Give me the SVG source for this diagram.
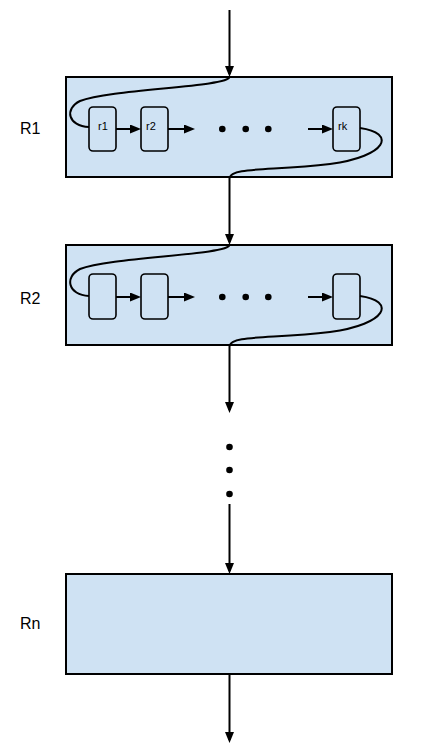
<svg xmlns="http://www.w3.org/2000/svg" width="441" height="753" viewBox="0 0 441 753">
  <defs>
    <marker id="ah" markerUnits="userSpaceOnUse" markerWidth="12" markerHeight="10" refX="8" refY="4.5" orient="auto">
      <path d="M0,0 L11,4.5 L0,9 z" fill="#000"/>
    </marker>
  </defs>
  <style>
    .box { fill: #cfe2f3; stroke: #000; stroke-width: 2; }
    .node { fill: #cfe2f3; stroke: #000; stroke-width: 1.6; }
    .lbl { font-family: "Liberation Sans", Arial, sans-serif; font-size: 16px; fill: #000; }
    .sm { font-family: "Liberation Sans", Arial, sans-serif; font-size: 11px; fill: #000; }
    .conn { fill: none; stroke: #000; stroke-width: 2; }
    .arr { fill: none; stroke: #000; stroke-width: 2; marker-end: url(#ah); }
    .dot { fill: #000; }
  </style>

  <g id="R1">
    <rect class="box" x="66" y="77" width="326" height="100"/>
    <text class="lbl" x="20" y="134">R1</text>
  </g>
  <g id="r1">
    <rect class="node" x="89" y="107" width="27" height="44" rx="4"/>
    <text class="sm" x="98" y="129.5">r1</text>
  </g>
  <g id="r2">
    <rect class="node" x="141" y="107" width="27" height="44" rx="4"/>
    <text class="sm" x="146" y="129.5">r2</text>
  </g>
  <g id="rk">
    <rect class="node" x="333" y="107" width="27" height="44" rx="4"/>
    <text class="sm" x="338" y="129.5">rk</text>
  </g>
  <g id="R1dots">
    <circle class="dot" cx="222.3" cy="129" r="3.3"/>
    <circle class="dot" cx="245.7" cy="129" r="3.3"/>
    <circle class="dot" cx="268.3" cy="129" r="3.3"/>
  </g>

  <g id="R2">
    <rect class="box" x="66" y="245" width="326" height="100"/>
    <text class="lbl" x="20" y="304">R2</text>
  </g>
  <g id="R2a">
    <rect class="node" x="89" y="274" width="27" height="45" rx="4"/>
  </g>
  <g id="R2b">
    <rect class="node" x="141" y="274" width="27" height="45" rx="4"/>
  </g>
  <g id="R2k">
    <rect class="node" x="333" y="274" width="27" height="45" rx="4"/>
  </g>
  <g id="R2dots">
    <circle class="dot" cx="222.3" cy="297" r="3.3"/>
    <circle class="dot" cx="245.7" cy="297" r="3.3"/>
    <circle class="dot" cx="268.3" cy="297" r="3.3"/>
  </g>

  <g id="vdots">
    <circle class="dot" cx="229.5" cy="447" r="3.3"/>
    <circle class="dot" cx="229.5" cy="470" r="3.3"/>
    <circle class="dot" cx="229.5" cy="494" r="3.3"/>
  </g>

  <g id="Rn">
    <rect class="box" x="66" y="574" width="326" height="100"/>
    <text class="lbl" x="20" y="629">Rn</text>
  </g>

  <g id="connectors">
    <line class="arr" x1="229.5" y1="10" x2="229.5" y2="74"/>
    <path class="conn" d="M229.5,77 C228,87 110,89 80,101 C64,109 68,126 89,127"/>
    <line class="arr" x1="116" y1="129" x2="138" y2="129"/>
    <line class="arr" x1="168" y1="129" x2="192" y2="129"/>
    <line class="arr" x1="308" y1="129" x2="330" y2="129"/>
    <path class="conn" d="M360,128 C396,133 388,156 330,164 C270,171 231,167 229.5,178"/>
    <line class="arr" x1="229.5" y1="177" x2="229.5" y2="242"/>

    <path class="conn" d="M229.5,245 C228,255 110,257 80,269 C64,277 68,295 89,296"/>
    <line class="arr" x1="116" y1="297" x2="138" y2="297"/>
    <line class="arr" x1="168" y1="297" x2="192" y2="297"/>
    <line class="arr" x1="308" y1="297" x2="330" y2="297"/>
    <path class="conn" d="M360,296 C396,301 388,324 330,332 C270,339 231,335 229.5,346"/>
    <line class="arr" x1="229.5" y1="345" x2="229.5" y2="410"/>

    <line class="arr" x1="229.5" y1="504" x2="229.5" y2="571"/>
    <line class="arr" x1="229.5" y1="674" x2="229.5" y2="740"/>
  </g>
</svg>
